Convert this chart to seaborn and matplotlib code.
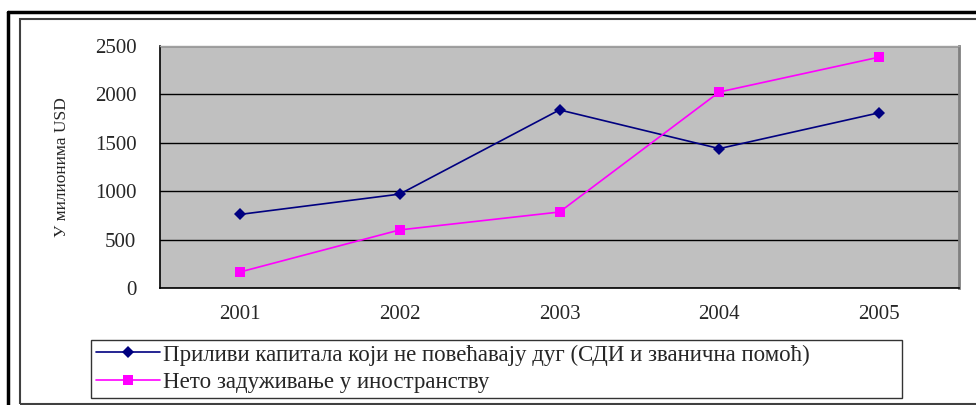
import pandas as pd
import seaborn as sns
import matplotlib.pyplot as plt
from matplotlib.lines import Line2D
from matplotlib.patches import Rectangle

# data
years = ['2001', '2002', '2003', '2004', '2005']
inflows = [760, 970, 1840, 1440, 1810]
borrowing = [165, 600, 785, 2025, 2385]
series_names = ['Приливи капитала који не повећавају дуг (СДИ и званична помоћ)',
                'Нето задуживање у иностранству']
y_ticks = [0, 500, 1000, 1500, 2000, 2500]
y_label = 'У милионима USD'


def main():
    df = pd.DataFrame({
        'pos': list(range(len(years))) * 2,
        'value': inflows + borrowing,
        'series': [series_names[0]] * len(years) + [series_names[1]] * len(years),
    })

    sns.set_style('white')
    plt.rcParams['font.family'] = ['Liberation Serif', 'DejaVu Serif']

    fig = plt.figure(figsize=(9.76, 4.05), dpi=100)
    ax = fig.add_axes([160 / 976, 117 / 405, 799 / 976, 242 / 405])
    ax.set_facecolor('#C0C0C0')

    sns.lineplot(data=df, x='pos', y='value', hue='series', style='series',
                 palette={series_names[0]: '#000080', series_names[1]: '#FF00FF'},
                 markers={series_names[0]: 'D', series_names[1]: 's'},
                 dashes=False, markersize=7, markeredgewidth=0, linewidth=1.2,
                 ax=ax, legend=False)
    for ln in ax.get_lines():
        if ln.get_marker() == 'D':
            ln.set_markersize(6.5)

    ax.set_xlim(-0.5, len(years) - 0.5)
    ax.set_ylim(0, 2500)
    ax.set_yticks(y_ticks)
    ax.set_yticklabels([str(v) for v in y_ticks], fontsize=15)
    ax.set_xticks(range(len(years)))
    ax.set_xticklabels(years, fontsize=15)
    ax.set_xticks([i - 0.5 for i in range(len(years) + 1)], minor=True)
    ax.tick_params(axis='x', which='major', length=0, pad=12)
    ax.tick_params(axis='x', which='minor', length=6, width=1, color='black', direction='out')
    ax.tick_params(axis='y', length=7, width=1, color='black', direction='out', pad=10)
    ax.grid(True, axis='y', color='black', linewidth=1)
    ax.set_axisbelow(True)
    ax.set_xlabel('')
    ax.set_ylabel(y_label, fontsize=12.5, labelpad=18)

    for side in ['left', 'bottom']:
        ax.spines[side].set_color('black')
        ax.spines[side].set_linewidth(1.2)
    ax.spines['top'].set_color('#A0A0A0')
    ax.spines['top'].set_linewidth(1)
    ax.spines['right'].set_color('#808080')
    ax.spines['right'].set_linewidth(2)

    # outer frames
    fig.add_artist(Line2D([8 / 976, 1.0], [1 - 12 / 405] * 2, color='black', linewidth=2.5))
    fig.add_artist(Line2D([8 / 976] * 2, [0, 1 - 12 / 405], color='black', linewidth=2.5))
    fig.add_artist(Rectangle((20 / 976, 1 / 405), 1.0, 1 - 20 / 405, fill=False,
                             edgecolor='#404040', linewidth=1.5))

    handles = [
        Line2D([], [], color='#000080', marker='D', markersize=6.5, markeredgewidth=0, linewidth=1.2),
        Line2D([], [], color='#FF00FF', marker='s', markersize=7, markeredgewidth=0, linewidth=1.2),
    ]
    leg = fig.legend(handles, series_names, loc='lower left',
                     bbox_to_anchor=(91 / 976, 7 / 405, 811 / 976, 56 / 405),
                     mode='expand', fontsize=16.5, frameon=True, fancybox=False,
                     handlelength=2.8, handletextpad=0.15, borderpad=0.2,
                     labelspacing=0.3, borderaxespad=0)
    leg.get_frame().set_edgecolor('black')
    leg.get_frame().set_linewidth(1)

    fig.savefig('out.png', dpi=100)


if __name__ == '__main__':
    main()
